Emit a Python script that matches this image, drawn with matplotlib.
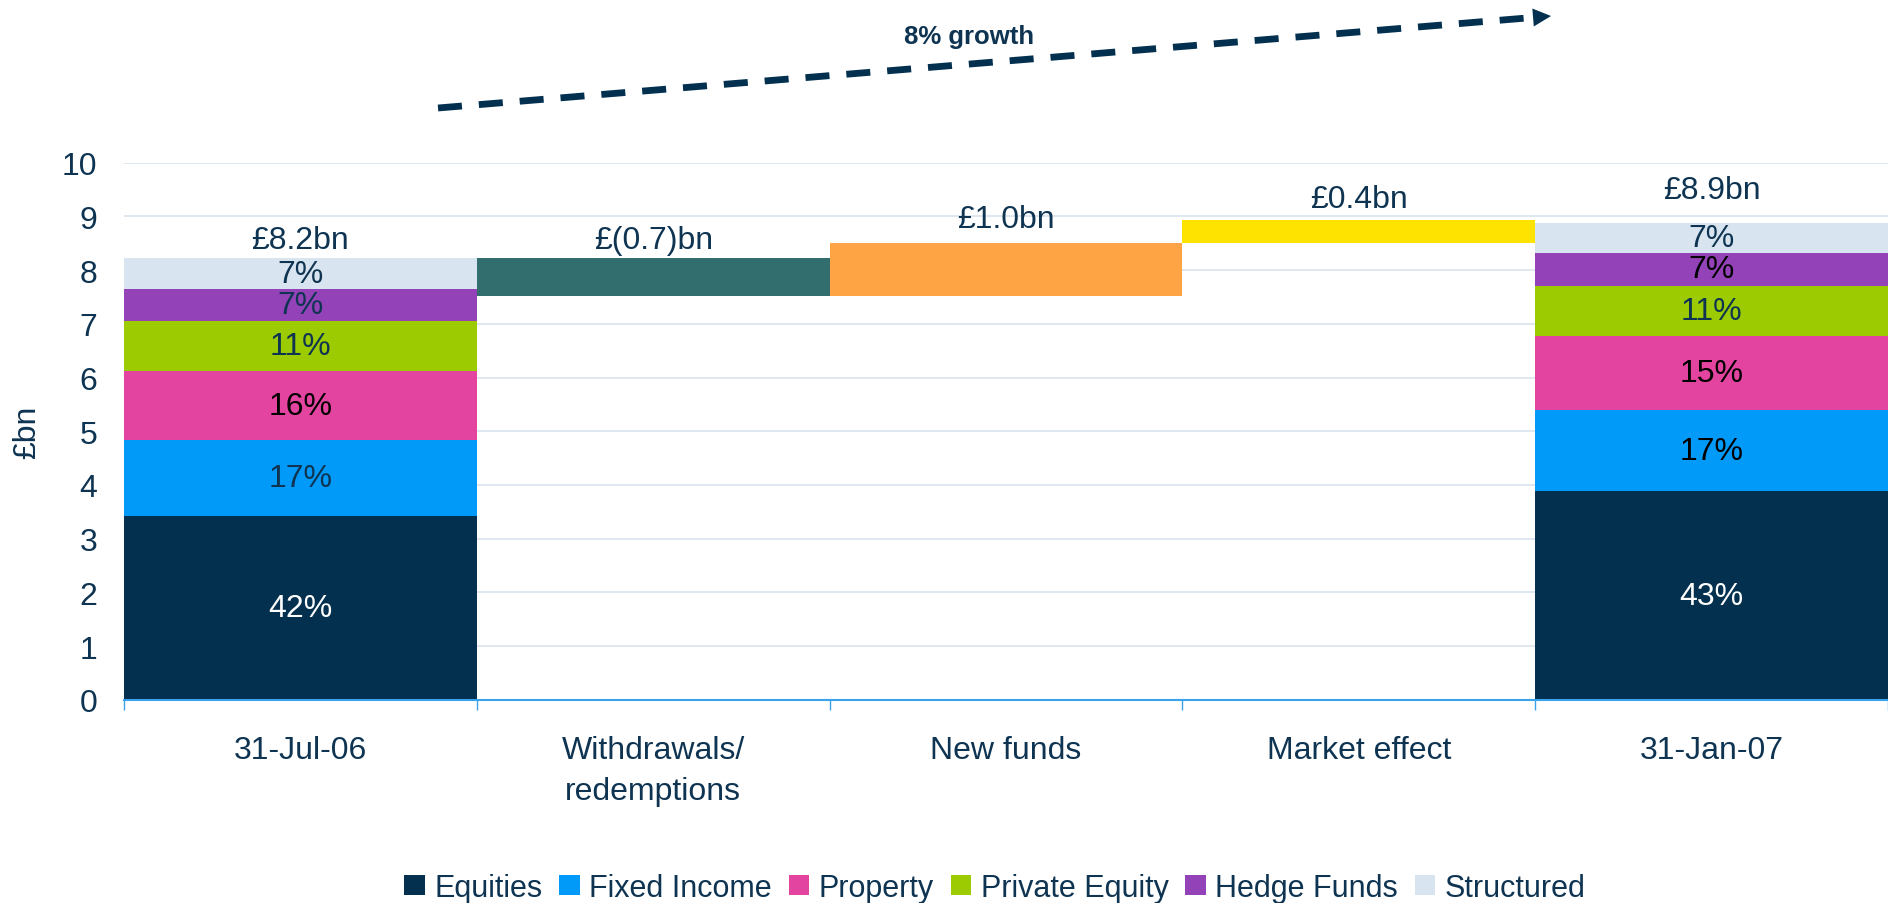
import matplotlib
matplotlib.use('Agg')
import matplotlib.pyplot as plt
from matplotlib.patches import Patch, Polygon
from matplotlib.lines import Line2D
import numpy as np

plt.rcParams['font.family'] = ['Liberation Sans', 'DejaVu Sans']

# ---------------- data ----------------
categories = ['31-Jul-06', 'Withdrawals/\nredemptions', 'New funds', 'Market effect', '31-Jan-07']
asset_classes = ['Equities', 'Fixed Income', 'Property', 'Private Equity', 'Hedge Funds', 'Structured']
jul06_values = [3.42, 1.41, 1.29, 0.93, 0.59, 0.58]
jan07_values = [3.88, 1.52, 1.38, 0.93, 0.61, 0.56]
jul06_pct = ['42%', '17%', '16%', '11%', '7%', '7%']
jan07_pct = ['43%', '17%', '15%', '11%', '7%', '7%']
flow_values = [-0.71, 1.00, 0.42]
bar_labels = ['£8.2bn', '£(0.7)bn', '£1.0bn', '£0.4bn', '£8.9bn']
growth_label = '8% growth'
y_ticks = [0, 1, 2, 3, 4, 5, 6, 7, 8, 9, 10]

# ---------------- style ----------------
asset_colors = ['#03304F', '#019AF9', '#E244A0', '#9BCB00', '#9342B8', '#D8E5F0']
flow_colors = ['#336E6E', '#FEA445', '#FFE300']
navy = '#0E3452'
jul_txt = ['white', navy, 'black', navy, navy, navy]
jan_txt = ['white', 'black', 'black', navy, 'black', navy]
label_offsets_pt = [13.5, 13, 17, 15.5, 23.5]
FS = 23

W, H = 1888, 904
fig = plt.figure(figsize=(W / 100, H / 100), dpi=100)
ax = fig.add_axes([124 / W, 1 - 700.8 / H, (W - 124) / W, (700.8 - 163.7) / H])

x = np.arange(len(categories))

# stacked start / end bars
def stacked(xpos, vals, pcts, txtcols):
    bottom = 0.0
    for v, c, p, tc in zip(vals, asset_colors, pcts, txtcols):
        ax.bar(xpos, v, bottom=bottom, width=1.0, color=c, edgecolor='none', zorder=2)
        ax.text(xpos, bottom + v / 2, p, ha='center', va='center', fontsize=FS, color=tc, zorder=3)
        bottom += v
    return bottom

start_total = stacked(x[0], jul06_values, jul06_pct, jul_txt)
end_total = stacked(x[4], jan07_values, jan07_pct, jan_txt)

# waterfall flows
level = start_total
tops = [start_total]
for i, (fv, fc) in enumerate(zip(flow_values, flow_colors)):
    if fv < 0:
        b, h = level + fv, -fv
        tops.append(level)
    else:
        b, h = level, fv
        tops.append(level + fv)
    ax.bar(x[i + 1], h, bottom=b, width=1.0, color=fc, edgecolor='none', zorder=2)
    level = level + fv
tops.append(end_total)

for xi, top, lab, off in zip(x, tops, bar_labels, label_offsets_pt):
    ax.annotate(lab, (xi, top), xytext=(0, off), textcoords='offset points',
                ha='center', va='center', fontsize=FS, color=navy)

# axes styling
ax.set_xlim(-0.5, len(categories) - 0.5)
ax.set_ylim(0, 10)
ax.set_yticks(y_ticks)
ax.set_yticklabels([str(t) for t in y_ticks])
ax.tick_params(axis='y', length=0, pad=19, labelsize=FS, labelcolor=navy)
ax.set_xticks(x)
ax.set_xticklabels(categories, linespacing=1.5)
ax.tick_params(axis='x', which='major', length=0, pad=25, labelsize=FS, labelcolor=navy)
ax.set_xticks(np.arange(-0.5, len(categories) + 0.5, 1.0), minor=True)
ax.tick_params(axis='x', which='minor', length=7, width=1, color='#3BA3EC', direction='out')
for t in ax.get_xticklabels():
    t.set_verticalalignment('top')

for s in ['left', 'right', 'top']:
    ax.spines[s].set_visible(False)
ax.spines['bottom'].set_color('#3BA3EC')
ax.spines['bottom'].set_linewidth(1.5)
ax.spines['bottom'].set_zorder(4)
ax.yaxis.grid(True, color='#D9E3ED', linewidth=1.2)
ax.set_axisbelow(True)

fig.text(27 / W, 1 - 432 / H, '£bn', rotation=90, ha='center', va='center', fontsize=FS, color=navy)

# legend
handles = [Patch(facecolor=c, edgecolor='none', label=l) for c, l in zip(asset_colors, asset_classes)]
leg = fig.legend(handles=handles, loc='center', bbox_to_anchor=(995 / W, 1 - 889 / H),
                 ncol=6, frameon=False, fontsize=22, handlelength=0.68, handleheight=0.62,
                 handletextpad=0.3, columnspacing=0.55, borderaxespad=0, borderpad=0)
for t in leg.get_texts():
    t.set_color(navy)

# growth arrow (figure pixels measured from top-left)
x0, y0 = 438, 109
x1, y1 = 1551, 17
d = np.array([x1 - x0, y1 - y0], dtype=float)
L = np.hypot(*d)
u = d / L
nrm = np.array([-u[1], u[0]])
head_len, head_half = 18, 9
base = np.array([x1, y1]) - u * head_len

def fpt(p):
    return (p[0] / W, 1 - p[1] / H)

lw = 4.9
line = Line2D([fpt((x0, y0))[0], fpt(base)[0]], [fpt((x0, y0))[1], fpt(base)[1]],
              transform=fig.transFigure, color='#03304F', linewidth=lw,
              linestyle=(0, (17.3 / lw, 12.2 / lw)), solid_capstyle='butt', dash_capstyle='butt')
fig.add_artist(line)
tri = [fpt((x1, y1)), fpt(base + nrm * head_half), fpt(base - nrm * head_half)]
fig.add_artist(Polygon(tri, closed=True, transform=fig.transFigure, facecolor='#03304F', edgecolor='none'))

fig.text(969 / W, 1 - 37 / H, growth_label, ha='center', va='center', fontsize=18.5,
         fontweight='bold', color=navy)

fig.savefig('out.png', dpi=100)
